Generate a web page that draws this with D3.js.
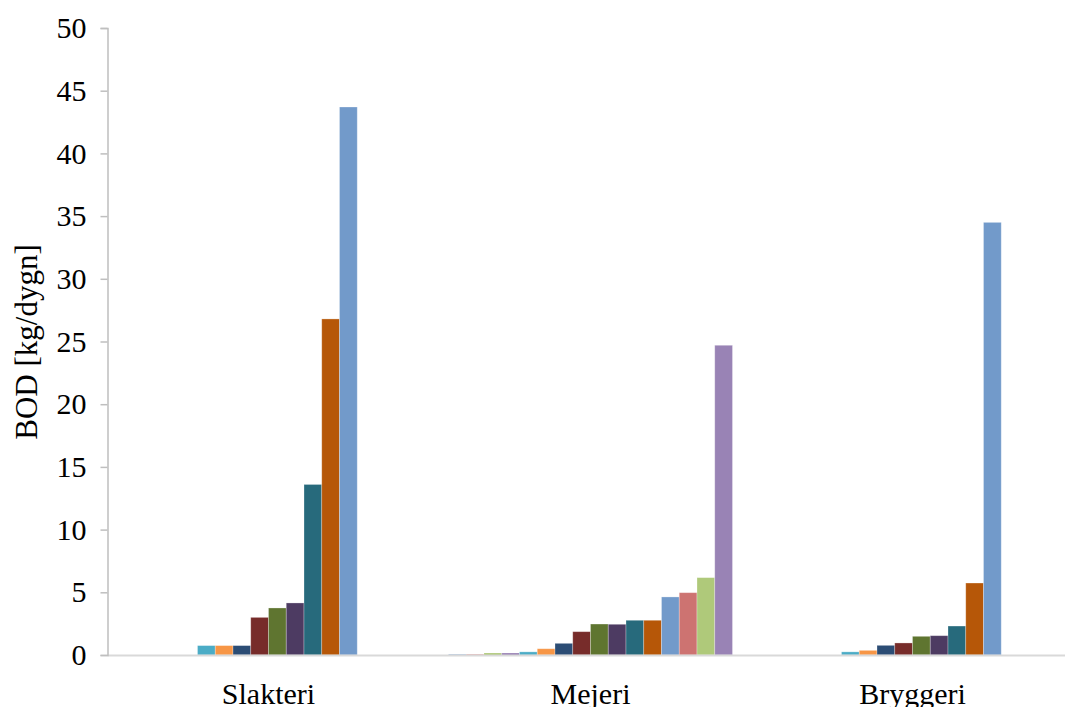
<!DOCTYPE html>
<html>
<head>
<meta charset="utf-8">
<script src="https://cdn.jsdelivr.net/npm/d3@7"></script>
<style>
  html, body { margin: 0; padding: 0; background: #ffffff; overflow: hidden; }
  svg { display: block; }
  text { font-family: "Liberation Serif", "Times New Roman", serif; fill: #000; }
</style>
</head>
<body>
<svg id="chart" width="1065" height="707"></svg>
<script>
// Industry categories along the x axis
const categories = ["Slakteri", "Mejeri", "Bryggeri"];

// Sixteen series, one value per category (BOD, kg/dygn)
const seriesNames = ["S1","S2","S3","S4","S5","S6","S7","S8","S9","S10","S11","S12","S13","S14","S15","S16"];
const slakteri = [0, 0, 0, 0, 0.75, 0.75, 0.75, 3.0, 3.75, 4.15, 13.6, 26.8, 43.7, 0, 0, 0];
const mejeri   = [0.05, 0.05, 0.15, 0.15, 0.25, 0.5, 0.93, 1.86, 2.47, 2.45, 2.77, 2.77, 4.63, 4.97, 6.17, 24.7];
const bryggeri = [0, 0, 0, 0, 0.25, 0.37, 0.77, 0.96, 1.49, 1.54, 2.31, 5.74, 34.5, 0, 0, 0];

// Office-style series colours
const seriesColors = ["#4f81bd","#c0504d","#9bbb59","#8064a2","#4bacc6","#f79646",
                      "#2c4d75","#772c2a","#5f7530","#4d3b62","#276a7c","#b65708",
                      "#729aca","#cd7371","#afc97a","#9983b5"];

const yTicks = [0, 5, 10, 15, 20, 25, 30, 35, 40, 45, 50];
const yTitle = "BOD [kg/dygn]";

const valuesByCategory = { "Slakteri": slakteri, "Mejeri": mejeri, "Bryggeri": bryggeri };

const svg = d3.select("#chart");
const plot = { left: 107.5, top: 28, bottom: 655, band: 322 };
const fontSize = "30px";

const x0 = d3.scaleBand()
  .domain(categories)
  .range([plot.left, plot.left + plot.band * categories.length])
  .paddingInner(0).paddingOuter(0);

const groupGap = 38;
const x1 = d3.scaleBand()
  .domain(seriesNames)
  .range([groupGap / 2, x0.bandwidth() - groupGap / 2])
  .padding(0);

const y = d3.scaleLinear().domain([0, 50]).range([plot.bottom, plot.top]);

// Bars
const groups = svg.append("g").selectAll("g")
  .data(categories)
  .join("g")
  .attr("transform", d => `translate(${x0(d)},0)`);

groups.selectAll("rect")
  .data(c => seriesNames.map((s, i) => ({ s, i, v: valuesByCategory[c][i] })).filter(d => d.v > 0))
  .join("rect")
  .attr("x", d => x1(d.s))
  .attr("width", x1.bandwidth())
  .attr("y", d => y(d.v))
  .attr("height", d => y(0) - y(d.v))
  .attr("fill", d => seriesColors[d.i])
  .attr("stroke", "#ffffff")
  .attr("stroke-opacity", 0.35)
  .attr("stroke-width", 0.8);

// X axis baseline
svg.append("line")
  .attr("x1", plot.left).attr("x2", 1065)
  .attr("y1", y(0) + 0.5).attr("y2", y(0) + 0.5)
  .attr("stroke", "#d9d9d9").attr("stroke-width", 2);

// Y axis
const yAxis = d3.axisLeft(y).tickValues(yTicks).tickSize(7).tickPadding(14).tickFormat(d3.format("d"));
const yg = svg.append("g")
  .attr("transform", `translate(${plot.left},0)`)
  .call(yAxis);
yg.select(".domain").attr("stroke", "#bfbfbf").attr("stroke-width", 1.5);
yg.selectAll(".tick line").attr("stroke", "#bfbfbf").attr("stroke-width", 1.5);
yg.selectAll(".tick text")
  .style("font-family", "'Liberation Serif', 'Times New Roman', serif")
  .style("font-size", fontSize)
  .attr("fill", "#000");

// Category labels
svg.append("g").selectAll("text")
  .data(categories)
  .join("text")
  .attr("x", d => x0(d) + x0.bandwidth() / 2)
  .attr("y", 704)
  .attr("text-anchor", "middle")
  .style("font-size", fontSize)
  .text(d => d);

// Y axis title
svg.append("text")
  .attr("transform", `translate(37,342) rotate(-90)`)
  .attr("text-anchor", "middle")
  .style("font-size", "31px")
  .text(yTitle);
</script>
</body>
</html>
